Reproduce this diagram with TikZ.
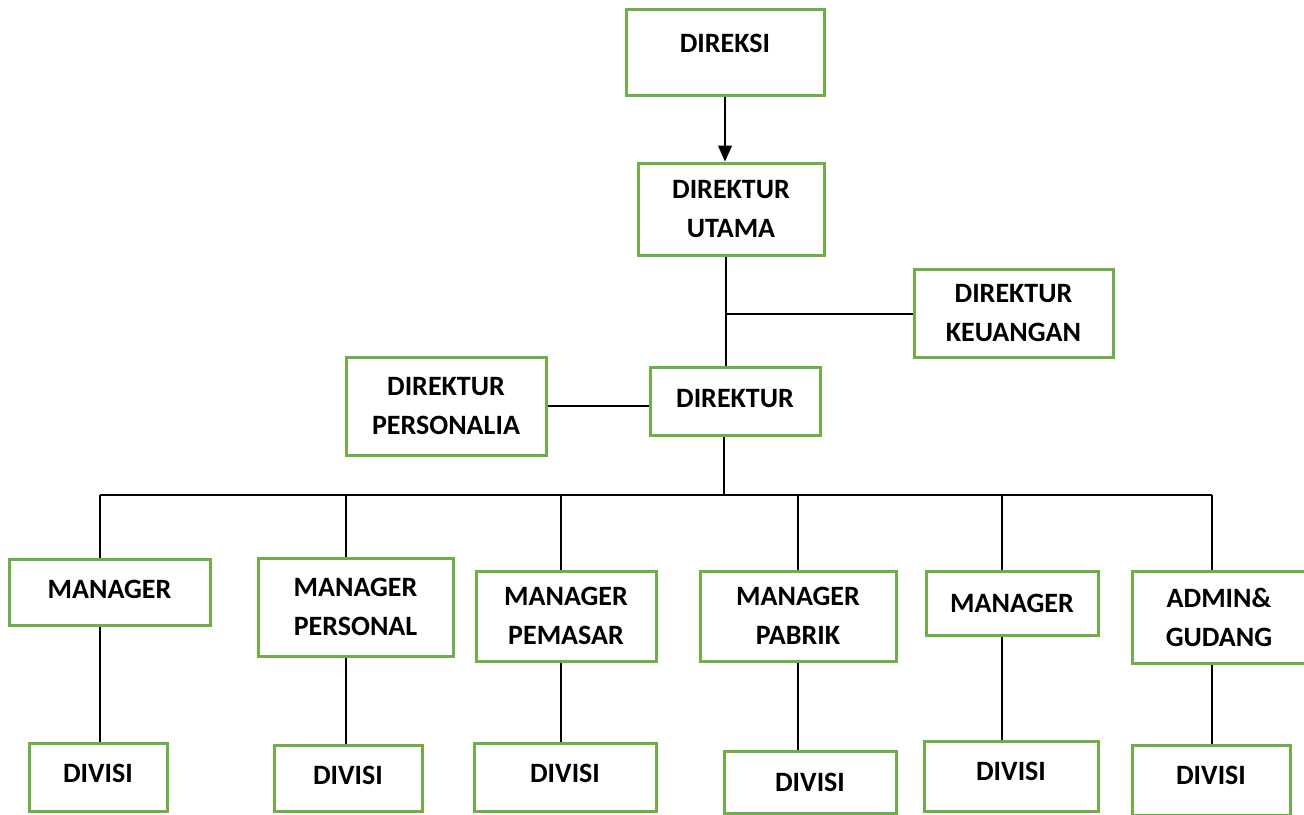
\documentclass[tikz,border=0pt]{standalone}
\usepackage{fontspec}
\setmainfont{Carlito}
\usetikzlibrary{arrows.meta}
\definecolor{boxgreen}{HTML}{70AD47}
\tikzset{
  orgbox/.style={draw=boxgreen, line width=3pt, fill=white, align=center,
    inner sep=0pt, font=\bfseries\fontsize{28}{39}\selectfont},
  link/.style={draw=black, line width=1.3pt},
}
\begin{document}
\begin{tikzpicture}[x=1pt, y=-1pt]
    \useasboundingbox (0,0) rectangle (1304,814);

    % top of the chart
    \node[orgbox, minimum width=198pt, minimum height=86pt, text depth=18pt] (direksi) at (725,52) {DIREKSI};
    \node[orgbox, minimum width=186pt, minimum height=92pt] (dirut) at (731,209) {DIREKTUR\\UTAMA};
    \node[orgbox, minimum width=199pt, minimum height=88pt] (dirkeu) at (1013.5,313) {DIREKTUR\\KEUANGAN};
    \node[orgbox, minimum width=200pt, minimum height=98pt] (dirpers) at (446,406) {DIREKTUR\\PERSONALIA};
    \node[orgbox, minimum width=170pt, minimum height=68pt, text depth=5pt] (dir) at (735,401) {DIREKTUR};

    % managers
    \node[orgbox, minimum width=201pt, minimum height=66pt, text depth=5pt] (mgr1) at (109.5,592) {MANAGER};
    \node[orgbox, minimum width=195pt, minimum height=98pt] (mgr2) at (355.5,607) {MANAGER\\PERSONAL};
    \node[orgbox, minimum width=180pt, minimum height=90pt] (mgr3) at (566,616) {MANAGER\\PEMASAR};
    \node[orgbox, minimum width=196pt, minimum height=90pt] (mgr4) at (798,616) {MANAGER\\PABRIK};
    \node[orgbox, minimum width=172pt, minimum height=64pt] (mgr5) at (1012,603) {MANAGER};
    \node[orgbox, minimum width=174pt, minimum height=92pt] (mgr6) at (1219,617) {ADMIN\&\\GUDANG};

    % divisions
    \node[orgbox, minimum width=138pt, minimum height=68pt, text depth=7pt] (div1) at (98,777) {DIVISI};
    \node[orgbox, minimum width=148pt, minimum height=66pt, text depth=5pt] (div2) at (348,778) {DIVISI};
    \node[orgbox, minimum width=182pt, minimum height=68pt, text depth=7pt] (div3) at (565,777) {DIVISI};
    \node[orgbox, minimum width=172pt, minimum height=62pt] (div4) at (810,782) {DIVISI};
    \node[orgbox, minimum width=174pt, minimum height=70pt, text depth=9pt] (div5) at (1011,776) {DIVISI};
    \node[orgbox, minimum width=158pt, minimum height=70pt, text depth=9pt] (div6) at (1211,780) {DIVISI};

    % connectors
    \draw[link, -{Triangle[length=16pt, width=14pt]}] (direksi.south) -- (direksi.south |- dirut.north);

    \coordinate (keu) at (726,314);
    \draw[link] (keu |- dirut.south) -- (keu |- dir.north);
    \draw[link] (keu) -- (keu -| dirkeu.west);
    \draw[link] (dirpers.east) -- (dirpers.east -| dir.west);

    \coordinate (bus) at (724,495);
    \coordinate (b1) at (100,495);
    \coordinate (b2) at (346,495);
    \coordinate (b3) at (561,495);
    \coordinate (b4) at (798,495);
    \coordinate (b5) at (1002,495);
    \coordinate (b6) at (1212,495);
    \draw[link] (bus |- dir.south) -- (bus);
    \draw[link] (b1) -- (b6);

    \foreach \i in {1,...,6} {
        \draw[link] (b\i) -- (b\i |- mgr\i.north);
        \draw[link] (b\i |- mgr\i.south) -- (b\i |- div\i.north);
    }
\end{tikzpicture}
\end{document}
